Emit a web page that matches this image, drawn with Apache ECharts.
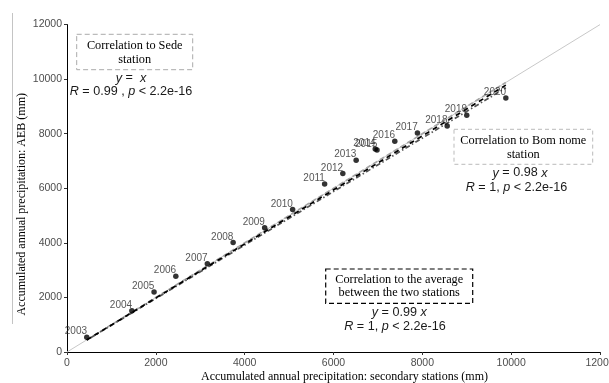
<!DOCTYPE html>
<html>
<head>
<meta charset="utf-8">
<script src="https://cdn.jsdelivr.net/npm/echarts@6/dist/echarts.min.js"></script>
<style>
  html, body { margin: 0; padding: 0; background: #fff; }
  #chart { width: 609px; height: 383px; }
</style>
</head>
<body>
<div id="chart"></div>
<script>
// Accumulated annual precipitation, 2003-2020
const years = ['2003','2004','2005','2006','2007','2008','2009','2010','2011',
               '2012','2013','2014','2015','2016','2017','2018','2019','2020'];
// secondary stations (mm)
const secondary = [445, 1460, 1960, 2450, 3160, 3740, 4450, 5080, 5800,
                   6210, 6510, 6940, 6980, 7380, 7890, 8560, 9000, 9880];
// AEB (mm)
const aeb = [540, 1510, 2200, 2780, 3230, 4010, 4550, 5220, 6160,
             6540, 7030, 7440, 7400, 7720, 8030, 8280, 8680, 9310];

// fitted slopes (through origin)
const slopeSede = 1.0;
const slopeBomNome = 0.98;
const slopeAverage = 0.99;

const xTicks = [0, 2000, 4000, 6000, 8000, 10000, 12000];
const yTicks = [0, 2000, 4000, 6000, 8000, 10000, 12000];

const xMin = Math.min(...secondary);
const xMax = Math.max(...secondary);
const fitLine = s => [[xMin, s * xMin], [xMax, s * xMax]];

const sans = 'Liberation Sans, Arial, sans-serif';
const serif = 'Liberation Serif, Times New Roman, serif';

const chart = echarts.init(document.getElementById('chart'), null, { renderer: 'canvas' });

function box(x, y, w, h, stroke, dash, lw) {
  return {
    type: 'rect', silent: true,
    shape: { x: x, y: y, width: w, height: h },
    style: { fill: '#fff', stroke: stroke, lineWidth: lw, lineDash: dash }
  };
}
function serifText(cx, cy, t) {
  return {
    type: 'text', silent: true, x: cx, y: cy,
    style: { text: t, font: '12.3px ' + serif, fill: '#000', align: 'center', verticalAlign: 'middle' }
  };
}
function eqText(cx, cy, t) {
  return {
    type: 'text', silent: true, x: cx, y: cy,
    style: {
      text: t, fontFamily: sans, fontSize: 12.6, fill: '#1a1a1a',
      align: 'center', verticalAlign: 'middle',
      rich: { i: { fontStyle: 'italic', fontFamily: sans, fontSize: 12.6, fill: '#1a1a1a' } }
    }
  };
}

chart.setOption({
  animation: false,
  backgroundColor: '#fff',
  grid: { left: 67, right: 9, top: 24.6, bottom: 31, containLabel: false, outerBoundsMode: 'none' },
  xAxis: {
    type: 'value', min: xTicks[0], max: xTicks[xTicks.length - 1], interval: 2000,
    name: 'Accumulated annual precipitation: secondary stations (mm)',
    nameLocation: 'middle', nameGap: 19, nameMoveOverlap: false,
    nameTextStyle: { fontFamily: serif, fontSize: 12, color: '#000', padding: [0, 0, 0, 22] },
    axisLine: { show: true, lineStyle: { color: '#000', width: 1 } },
    axisTick: { show: true, length: 3, lineStyle: { color: '#333' } },
    axisLabel: { color: '#4d4d4d', fontFamily: sans, fontSize: 10.5, margin: 6,
                 showMaxLabel: true, formatter: v => String(v) },
    splitLine: { show: false }
  },
  yAxis: {
    type: 'value', min: yTicks[0], max: yTicks[yTicks.length - 1], interval: 2000,
    name: 'Accumulated annual precipitation: AEB (mm)',
    nameLocation: 'middle', nameGap: 39.5, nameRotate: 90, nameMoveOverlap: false,
    nameTextStyle: { fontFamily: serif, fontSize: 12, color: '#000', padding: [0, 32, 0, 0] },
    axisLine: { show: true, lineStyle: { color: '#000', width: 1 } },
    axisTick: { show: true, length: 3, lineStyle: { color: '#333' } },
    axisLabel: { color: '#4d4d4d', fontFamily: sans, fontSize: 10.5, margin: 5,
                 formatter: v => String(v) },
    splitLine: { show: false }
  },
  series: [
    {
      // 1:1 reference line
      type: 'line', data: [[0, 0], [12000, 12000]], symbol: 'none', z: 1,
      lineStyle: { color: '#c8c8c8', width: 1 }
    },
    {
      name: 'Sede', type: 'line', data: fitLine(slopeSede), symbol: 'none', z: 2,
      lineStyle: { color: '#a6a6a6', width: 1.7, type: [5, 3] }
    },
    {
      name: 'Bom nome', type: 'line', data: fitLine(slopeBomNome), symbol: 'none', z: 3,
      lineStyle: { color: '#555', width: 1.7, type: [1.5, 2.5, 5, 2.5] }
    },
    {
      name: 'Average', type: 'line', data: fitLine(slopeAverage), symbol: 'none', z: 4,
      lineStyle: { color: '#000', width: 1.7, type: [5, 4] }
    },
    {
      type: 'scatter', z: 5,
      data: secondary.map((x, i) => ({ value: [x, aeb[i]], name: years[i] })),
      symbolSize: 5.5,
      itemStyle: { color: '#000' },
      label: {
        show: true, formatter: p => p.name,
        position: [3, 2], align: 'right', verticalAlign: 'bottom',
        fontFamily: sans, fontSize: 10, color: '#2b2b2b'
      }
    }
  ],
  graphic: [
    // thin frame line at the far left
    { type: 'line', silent: true, shape: { x1: 12.5, y1: 13, x2: 12.5, y2: 324 },
      style: { stroke: '#c4c4c4', lineWidth: 1 } },

    box(76.7, 34.3, 116, 35.4, '#aaaaaa', [5, 3], 1),
    serifText(134.7, 45.5, 'Correlation to Sede'),
    serifText(134.7, 60, 'station'),
    eqText(131, 78, '{i|y} =  {i|x}'),
    eqText(131, 91.5, '{i|R} = 0.99 , {i|p} < 2.2e-16'),

    box(454, 129.3, 138.7, 35, '#bbbbbb', [4, 3], 1),
    serifText(523.3, 140.5, 'Correlation to Bom nome'),
    serifText(523.3, 154.5, 'station'),
    eqText(520, 173, '{i|y} = 0.98 {i|x}'),
    eqText(516.5, 187.5, '{i|R} = 1, {i|p} < 2.2e-16'),

    box(325.7, 269, 147, 34.3, '#000000', [5, 3], 1.2),
    serifText(399.2, 279.5, 'Correlation to the average'),
    serifText(399.2, 293, 'between the two stations'),
    eqText(399.3, 312.5, '{i|y} = 0.99 {i|x}'),
    eqText(395, 326.5, '{i|R} = 1, {i|p} < 2.2e-16')
  ]
});
</script>
</body>
</html>
